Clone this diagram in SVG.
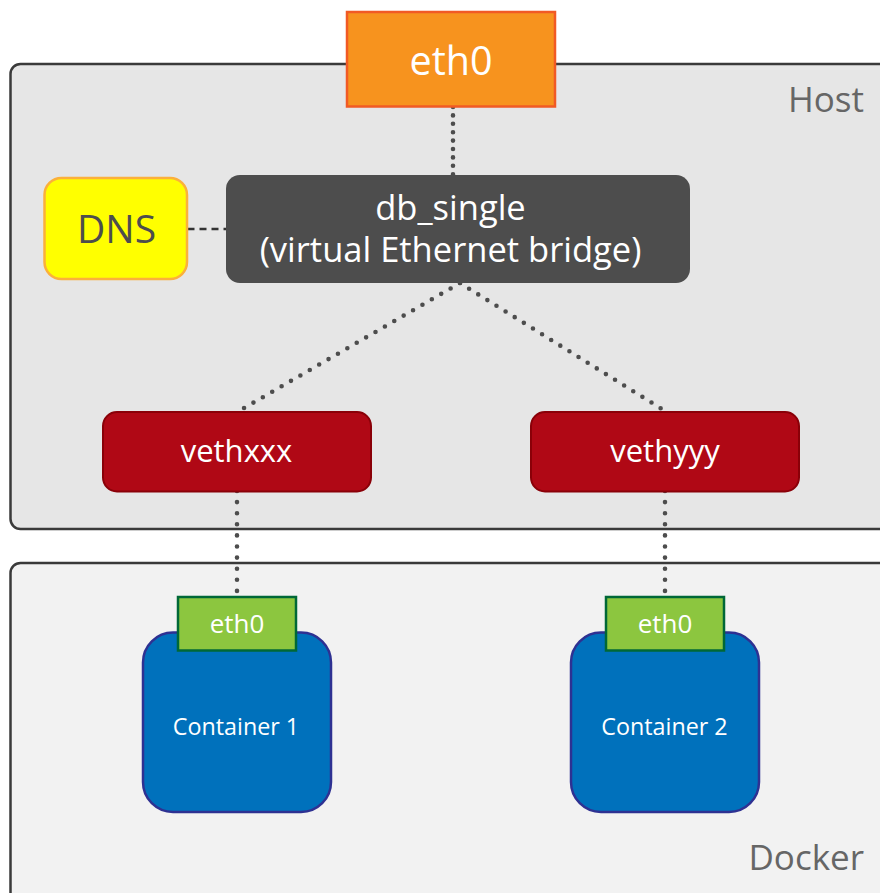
<svg xmlns="http://www.w3.org/2000/svg" width="880" height="893" viewBox="0 0 880 893">
  <style>
    text { font-family: "Open Sans", "Noto Sans", "DejaVu Sans", sans-serif; text-anchor: middle; }
    .zone { stroke: #3a3a3a; stroke-width: 2.5; }
    .zone-label { fill: #666666; font-size: 35px; text-anchor: end; }
    .dots { fill: none; stroke: #4d4d4d; stroke-width: 4.6; stroke-linecap: round; }
    .dash { fill: none; stroke: #333333; stroke-width: 2.5; stroke-dasharray: 7 5; }
    .veth rect { fill: #b00815; stroke: #8a0008; stroke-width: 2; }
    .veth text { fill: #ffffff; font-size: 31px; }
    .nic rect { fill: #8cc63f; stroke: #006837; stroke-width: 2.5; }
    .nic text { fill: #ffffff; font-size: 26px; }
    .ctr rect { fill: #0071bc; stroke: #2e3192; stroke-width: 2.5; }
    .ctr text { fill: #ffffff; font-size: 23.3px; }
  </style>

  <rect width="880" height="893" fill="#ffffff"/>

  <!-- Host area -->
  <g id="host">
    <rect class="zone" x="10.5" y="64" width="900" height="465" rx="10" fill="#e6e6e6"/>
    <text class="zone-label" x="864" y="112">Host</text>
  </g>

  <!-- Docker area -->
  <g id="docker">
    <rect class="zone" x="10.5" y="563" width="900" height="360" rx="10" fill="#f2f2f2"/>
    <text class="zone-label" x="864" y="870">Docker</text>
  </g>

  <!-- Connectors -->
  <g id="connectors">
    <line class="dots" x1="453" y1="107" x2="453" y2="175" stroke-dasharray="0 8.4"/>
    <line class="dash" x1="187.5" y1="229" x2="226" y2="229"/>
    <line class="dots" x1="460" y1="283" x2="240.7" y2="410" stroke-dasharray="0 10.85"/>
    <line class="dots" x1="460" y1="283" x2="665" y2="411" stroke-dasharray="0 10.75"/>
    <line class="dots" x1="237" y1="491" x2="237" y2="597" stroke-dasharray="0 11.1"/>
    <line class="dots" x1="665" y1="491" x2="665" y2="597" stroke-dasharray="0 11.1"/>
  </g>

  <!-- Host uplink -->
  <g id="eth0-host">
    <rect x="347" y="12" width="208" height="94.5" fill="#f7931e" stroke="#f15a24" stroke-width="2.5"/>
    <text x="451" y="75" font-size="39.5" fill="#ffffff">eth0</text>
  </g>

  <!-- DNS -->
  <g id="dns">
    <rect x="44.5" y="178" width="142.5" height="101" rx="17" fill="#ffff00" stroke="#fbb03b" stroke-width="2.5"/>
    <text x="116.5" y="243" font-size="39" fill="#4d4d4d">DNS</text>
  </g>

  <!-- Bridge -->
  <g id="bridge">
    <rect x="226" y="175" width="464" height="108" rx="14" fill="#4d4d4d"/>
    <text x="450.5" y="220" font-size="34.5" fill="#ffffff">db_single</text>
    <text x="450.5" y="262" font-size="34.5" fill="#ffffff">(virtual Ethernet bridge)</text>
  </g>

  <!-- veth pairs -->
  <g id="vethxxx" class="veth">
    <rect x="103" y="412" width="268" height="79.5" rx="14"/>
    <text x="236.5" y="462">vethxxx</text>
  </g>
  <g id="vethyyy" class="veth">
    <rect x="531" y="412" width="268" height="79.5" rx="14"/>
    <text x="665" y="462">vethyyy</text>
  </g>

  <!-- Containers -->
  <g id="container1" class="ctr">
    <rect x="143" y="632.5" width="188" height="179.5" rx="30"/>
    <text x="236" y="735">Container 1</text>
  </g>
  <g id="container2" class="ctr">
    <rect x="571" y="632.5" width="188" height="179.5" rx="30"/>
    <text x="664.5" y="735">Container 2</text>
  </g>

  <!-- Container interfaces -->
  <g id="eth0-c1" class="nic">
    <rect x="178" y="597" width="118" height="53.5"/>
    <text x="237" y="633">eth0</text>
  </g>
  <g id="eth0-c2" class="nic">
    <rect x="606" y="597" width="118" height="53.5"/>
    <text x="665" y="633">eth0</text>
  </g>
</svg>
